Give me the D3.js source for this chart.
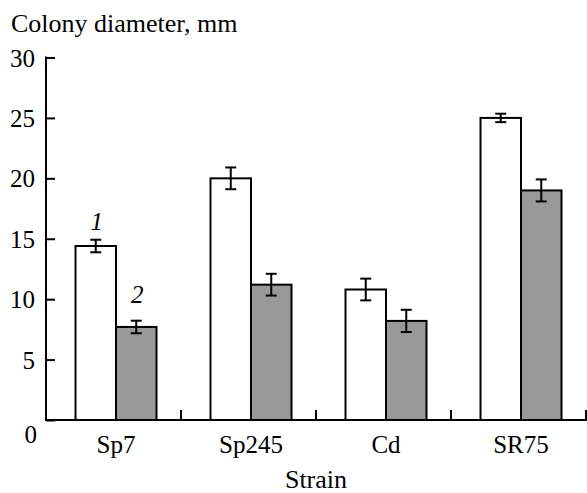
<!DOCTYPE html>
<html>
<head>
<meta charset="utf-8">
<script src="https://cdn.jsdelivr.net/npm/d3@7"></script>
<style>
  body { margin: 0; background: #fff; }
</style>
</head>
<body>
<script>
// data
const strains = ["Sp7", "Sp245", "Cd", "SR75"];
const seriesNames = ["1", "2"];
const series1 = [14.4, 20.0, 10.8, 25.0];
const series1Err = [0.52, 0.9, 0.9, 0.35];
const series2 = [7.7, 11.2, 8.2, 19.0];
const series2Err = [0.52, 0.9, 0.92, 0.91];
const yTicks = [0, 5, 10, 15, 20, 25, 30];

const width = 587, height = 493;
const fills = ["#ffffff", "#999999"];
const serif = "'Liberation Serif', Tinos, FreeSerif, 'Times New Roman', serif";

const svg = d3.select("body")
    .append("svg")
    .attr("width", width)
    .attr("height", height)
    .style("font-family", serif);

const y = d3.scaleLinear()
    .domain([0, 30])
    .range([420, 57.5]);

const x0 = d3.scaleBand()
    .domain(strains)
    .range([46, 586])
    .padding(0);

const barW = 40.5;
const x1 = d3.scaleBand()
    .domain(seriesNames)
    .range([-barW, barW]);

const rows = [];
strains.forEach((s, i) => {
    rows.push({ strain: s, series: "1", value: series1[i], err: series1Err[i] });
    rows.push({ strain: s, series: "2", value: series2[i], err: series2Err[i] });
});

const center = s => x0(s) + x0.bandwidth() / 2 + 2.5;

// bars
svg.append("g")
    .selectAll("rect")
    .data(rows)
    .join("rect")
    .attr("x", d => center(d.strain) + x1(d.series))
    .attr("y", d => y(d.value))
    .attr("width", x1.bandwidth())
    .attr("height", d => y(0) - y(d.value))
    .attr("fill", d => fills[seriesNames.indexOf(d.series)])
    .attr("stroke", "#000")
    .attr("stroke-width", 2);

// error bars
const eb = svg.append("g")
    .selectAll("g")
    .data(rows)
    .join("g")
    .attr("stroke", "#000")
    .attr("stroke-width", 2);
const cx = d => center(d.strain) + x1(d.series) + x1.bandwidth() / 2;
eb.append("line")
    .attr("x1", cx).attr("x2", cx)
    .attr("y1", d => y(d.value + d.err))
    .attr("y2", d => y(d.value - d.err));
eb.append("line")
    .attr("x1", d => cx(d) - 5.5).attr("x2", d => cx(d) + 5.5)
    .attr("y1", d => y(d.value + d.err)).attr("y2", d => y(d.value + d.err));
eb.append("line")
    .attr("x1", d => cx(d) - 5.5).attr("x2", d => cx(d) + 5.5)
    .attr("y1", d => y(d.value - d.err)).attr("y2", d => y(d.value - d.err));

// y axis, ticks pointing inward
const yAxis = svg.append("g")
    .attr("transform", "translate(46,0)")
    .call(d3.axisRight(y).tickValues(yTicks).tickSize(9).tickFormat(""));
yAxis.select(".domain").remove();
yAxis.selectAll(".tick line").attr("stroke-width", 2);
svg.append("line")
    .attr("x1", 46).attr("x2", 46)
    .attr("y1", y(30) - 1).attr("y2", y(0))
    .attr("stroke", "#000").attr("stroke-width", 2);

svg.append("g")
    .selectAll("text")
    .data(yTicks)
    .join("text")
    .attr("x", d => d === 0 ? 37 : 35)
    .attr("y", d => d === 0 ? 443 : y(d) + 9)
    .attr("text-anchor", "end")
    .attr("font-family", serif)
    .attr("font-size", 25)
    .text(d => d);

// x axis
svg.append("line")
    .attr("x1", 45).attr("x2", width)
    .attr("y1", y(0)).attr("y2", y(0))
    .attr("stroke", "#000").attr("stroke-width", 2);

svg.append("g")
    .selectAll("line")
    .data(strains)
    .join("line")
    .attr("x1", d => x0(d) + x0.bandwidth())
    .attr("x2", d => x0(d) + x0.bandwidth())
    .attr("y1", y(0))
    .attr("y2", y(0) - 10)
    .attr("stroke", "#000").attr("stroke-width", 2);

svg.append("g")
    .selectAll("text")
    .data(strains)
    .join("text")
    .attr("x", d => center(d))
    .attr("y", 453)
    .attr("text-anchor", "middle")
    .attr("font-family", serif)
    .attr("font-size", 25)
    .text(d => d);

// series labels above first group
svg.append("text")
    .attr("x", center(strains[0]) + x1("1") + x1.bandwidth() / 2 + 1)
    .attr("y", 230)
    .attr("text-anchor", "middle")
    .attr("font-family", serif)
    .attr("font-size", 25)
    .attr("font-style", "italic")
    .text(seriesNames[0]);
svg.append("text")
    .attr("x", center(strains[0]) + x1("2") + x1.bandwidth() / 2 + 1)
    .attr("y", 303)
    .attr("text-anchor", "middle")
    .attr("font-family", serif)
    .attr("font-size", 25)
    .attr("font-style", "italic")
    .text(seriesNames[1]);

// titles
svg.append("text")
    .attr("x", 11)
    .attr("y", 32)
    .attr("font-family", serif)
    .attr("font-size", 26)
    .text("Colony diameter, mm");

svg.append("text")
    .attr("x", 316)
    .attr("y", 488)
    .attr("text-anchor", "middle")
    .attr("font-family", serif)
    .attr("font-size", 26)
    .text("Strain");
</script>
</body>
</html>
